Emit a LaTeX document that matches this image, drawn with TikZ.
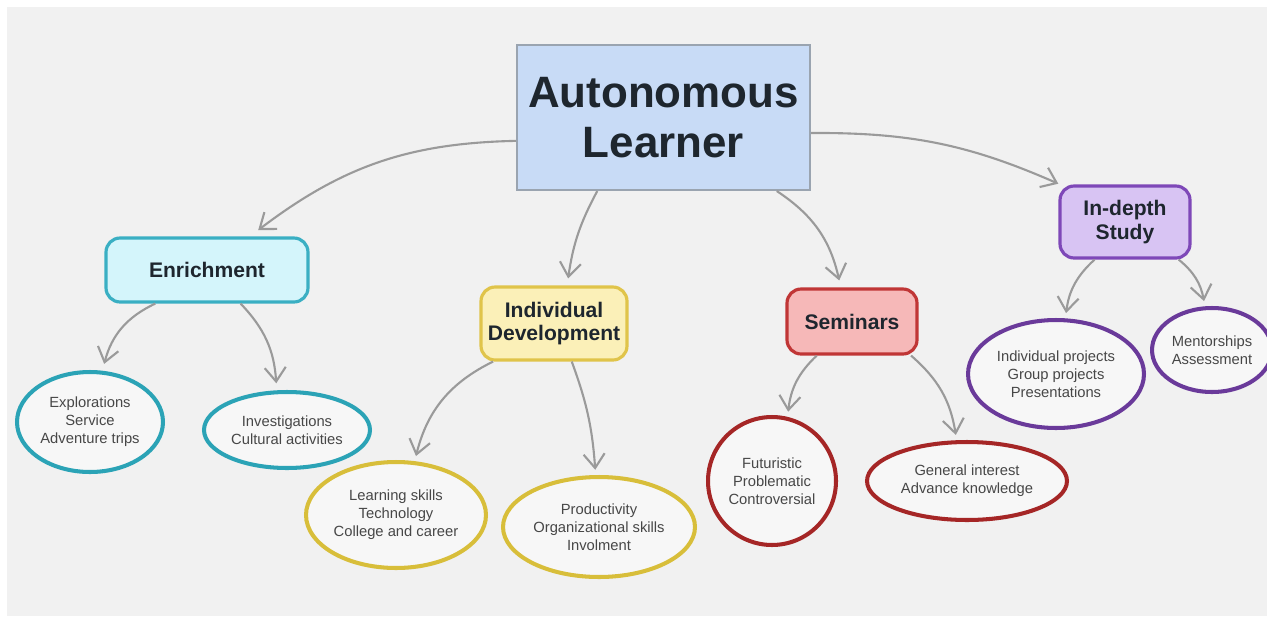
\documentclass[tikz,border=0pt]{standalone}
\usepackage{fontspec}
\setmainfont{Liberation Sans}
\usetikzlibrary{arrows.meta,shapes.geometric}
\definecolor{bgc}{HTML}{F1F1F1}
\definecolor{headtxt}{HTML}{1E262E}
\definecolor{elltxt}{HTML}{474747}
\definecolor{arrc}{HTML}{9A9A9A}
\definecolor{mainfill}{HTML}{C8DBF6}
\definecolor{maindraw}{HTML}{9AA4B0}
\definecolor{enrfill}{HTML}{D4F5FB}
\definecolor{enrdraw}{HTML}{3AAFC3}
\definecolor{indfill}{HTML}{FBF0B8}
\definecolor{inddraw}{HTML}{E0C44A}
\definecolor{semfill}{HTML}{F6B8B8}
\definecolor{semdraw}{HTML}{C03636}
\definecolor{idpfill}{HTML}{D8C4F3}
\definecolor{idpdraw}{HTML}{7E48B8}
\definecolor{ellfill}{HTML}{F7F7F7}
\definecolor{cyanell}{HTML}{2BA3B6}
\definecolor{yellell}{HTML}{D8BE3A}
\definecolor{redell}{HTML}{A52626}
\definecolor{purpell}{HTML}{6A3A9A}
\begin{document}
\begin{tikzpicture}[x=0.02cm,y=0.02cm,
  catbox/.style={draw, rounded corners=8pt, line width=1.8pt, align=center,
    font=\bfseries\fontsize{12}{13.5}\selectfont, text=headtxt, inner sep=0pt},
  subell/.style={ellipse, draw, line width=2.3pt, fill=ellfill, align=center,
    font=\fontsize{8.4}{10.2}\selectfont, text=elltxt, inner sep=0pt},
  conn/.style={draw=arrc, line width=1.2pt, -{Straight Barb[length=8pt,width=12pt,line width=1.2pt]}, shorten >=1pt}
]
\useasboundingbox (0,0) rectangle (1267,-622);
\fill[white] (0,0) rectangle (1267,-622);
\fill[bgc] (7,-7) rectangle (1267,-616);

% main
\node[draw=maindraw, fill=mainfill, line width=1.2pt, minimum width=5.86cm, minimum height=2.9cm,
  align=center, font=\bfseries\fontsize{25}{28.5}\selectfont, text=headtxt, inner sep=0pt]
  (main) at (663.5,-117.5) {Autonomous\\Learner};

% categories
\node[catbox, fill=enrfill, draw=enrdraw, minimum width=4.04cm, minimum height=1.28cm] (enr) at (207,-270) {Enrichment};
\node[catbox, fill=indfill, draw=inddraw, minimum width=2.92cm, minimum height=1.46cm] (ind) at (554,-323.5) {Individual\\Development};
\node[catbox, fill=semfill, draw=semdraw, minimum width=2.6cm, minimum height=1.3cm] (sem) at (852,-321.5) {Seminars};
\node[catbox, fill=idpfill, draw=idpdraw, minimum width=2.6cm, minimum height=1.44cm] (idp) at (1125,-222) {In-depth\\Study};

% ellipses
\node[subell, draw=cyanell, minimum width=2.92cm, minimum height=2.0cm] (expl) at (90,-422) {Explorations\\Service\\Adventure trips};
\node[subell, draw=cyanell, minimum width=3.32cm, minimum height=1.52cm] (inv) at (287,-430) {Investigations\\Cultural activities};
\node[subell, draw=yellell, minimum width=3.6cm, minimum height=2.12cm] (learn) at (396,-515) {Learning skills\\Technology\\College and career};
\node[subell, draw=yellell, minimum width=3.84cm, minimum height=2.0cm] (prod) at (599,-527) {Productivity\\Organizational skills\\Involment};
\node[subell, draw=redell, minimum width=2.56cm, minimum height=2.56cm] (fut) at (772,-481) {Futuristic\\Problematic\\Controversial};
\node[subell, draw=redell, minimum width=4.0cm, minimum height=1.56cm] (gen) at (967,-481) {General interest\\Advance knowledge};
\node[subell, draw=purpell, minimum width=3.52cm, minimum height=2.16cm] (indp) at (1056,-374) {Individual projects\\Group projects\\Presentations};
\node[subell, draw=purpell, minimum width=2.4cm, minimum height=1.68cm] (ment) at (1212,-350) {Mentorships\\Assessment};

% connectors
\draw[conn] (main.189) to[bend right=18] ([yshift=3pt]enr.34);
\draw[conn] (main.228) to[bend right=10] ([yshift=3pt]ind.70);
\draw[conn] (main.-33) to[bend left=22] ([yshift=3pt]sem.110);
\draw[conn] (main.-6) to[bend left=12] (idp.150);
\draw[conn] (enr.213) to[bend right=25] ([yshift=3pt]expl.75);
\draw[conn] (enr.-45) to[bend left=20] ([yshift=3pt]inv.105);
\draw[conn] (ind.212) to[bend right=25] ([yshift=2pt]learn.70);
\draw[conn] (ind.-65) to[bend left=8] ([yshift=2pt]prod.94);
\draw[conn] (sem.224) to[bend right=20] ([yshift=2pt]fut.76);
\draw[conn] (sem.-30) to[bend left=20] ([yshift=2pt]gen.105);
\draw[conn] (idp.231) to[bend right=20] ([yshift=2pt]indp.80);
\draw[conn] (idp.-35) to[bend left=20] ([yshift=2pt]ment.100);
\end{tikzpicture}
\end{document}
